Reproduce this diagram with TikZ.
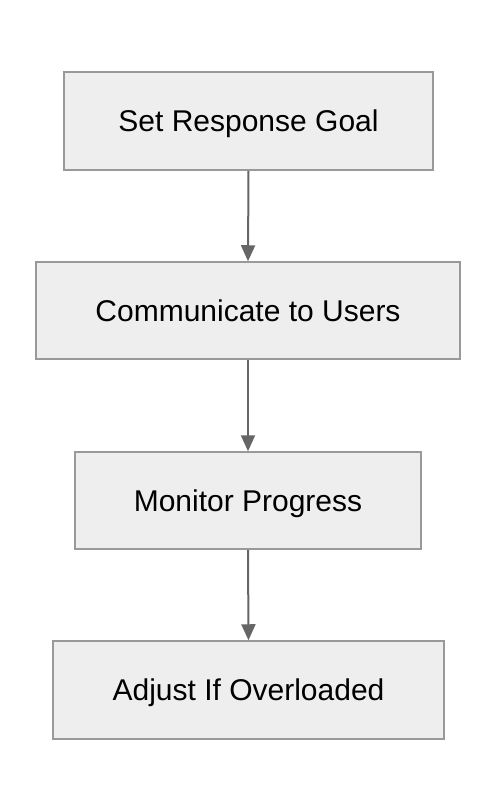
\documentclass[tikz,border=0pt]{standalone}
\usepackage{fontspec}
\setmainfont{Liberation Sans}
\usetikzlibrary{arrows.meta}
\definecolor{boxfill}{HTML}{EEEEEE}
\definecolor{boxline}{HTML}{999999}
\definecolor{arrowcol}{HTML}{666666}
\begin{document}
\begin{tikzpicture}[x=1pt,y=-1pt,
  stepbox/.style={draw=boxline,fill=boxfill,line width=1.5pt,inner sep=0pt,
    text height=21.5pt,text depth=0pt,
    font=\fontsize{30}{36}\selectfont,text=black},
  conn/.style={draw=arrowcol,line width=2pt,-{Triangle[length=16pt,width=14pt]}}]
\useasboundingbox (0,0) rectangle (498,812);
\node[stepbox,minimum width=369pt,minimum height=98pt] (a) at (248.5,121) {Set Response Goal};
\node[stepbox,minimum width=424pt,minimum height=97pt] (b) at (248,310.5) {Communicate to Users};
\node[stepbox,minimum width=346pt,minimum height=97pt] (c) at (248,500.5) {Monitor Progress};
\node[stepbox,minimum width=391pt,minimum height=98pt] (d) at (248.5,690) {Adjust If Overloaded};
\draw[conn] (a.south) -- (b.north);
\draw[conn] (b.south) -- (c.north);
\draw[conn] (c.south) -- (d.north);
\end{tikzpicture}
\end{document}
